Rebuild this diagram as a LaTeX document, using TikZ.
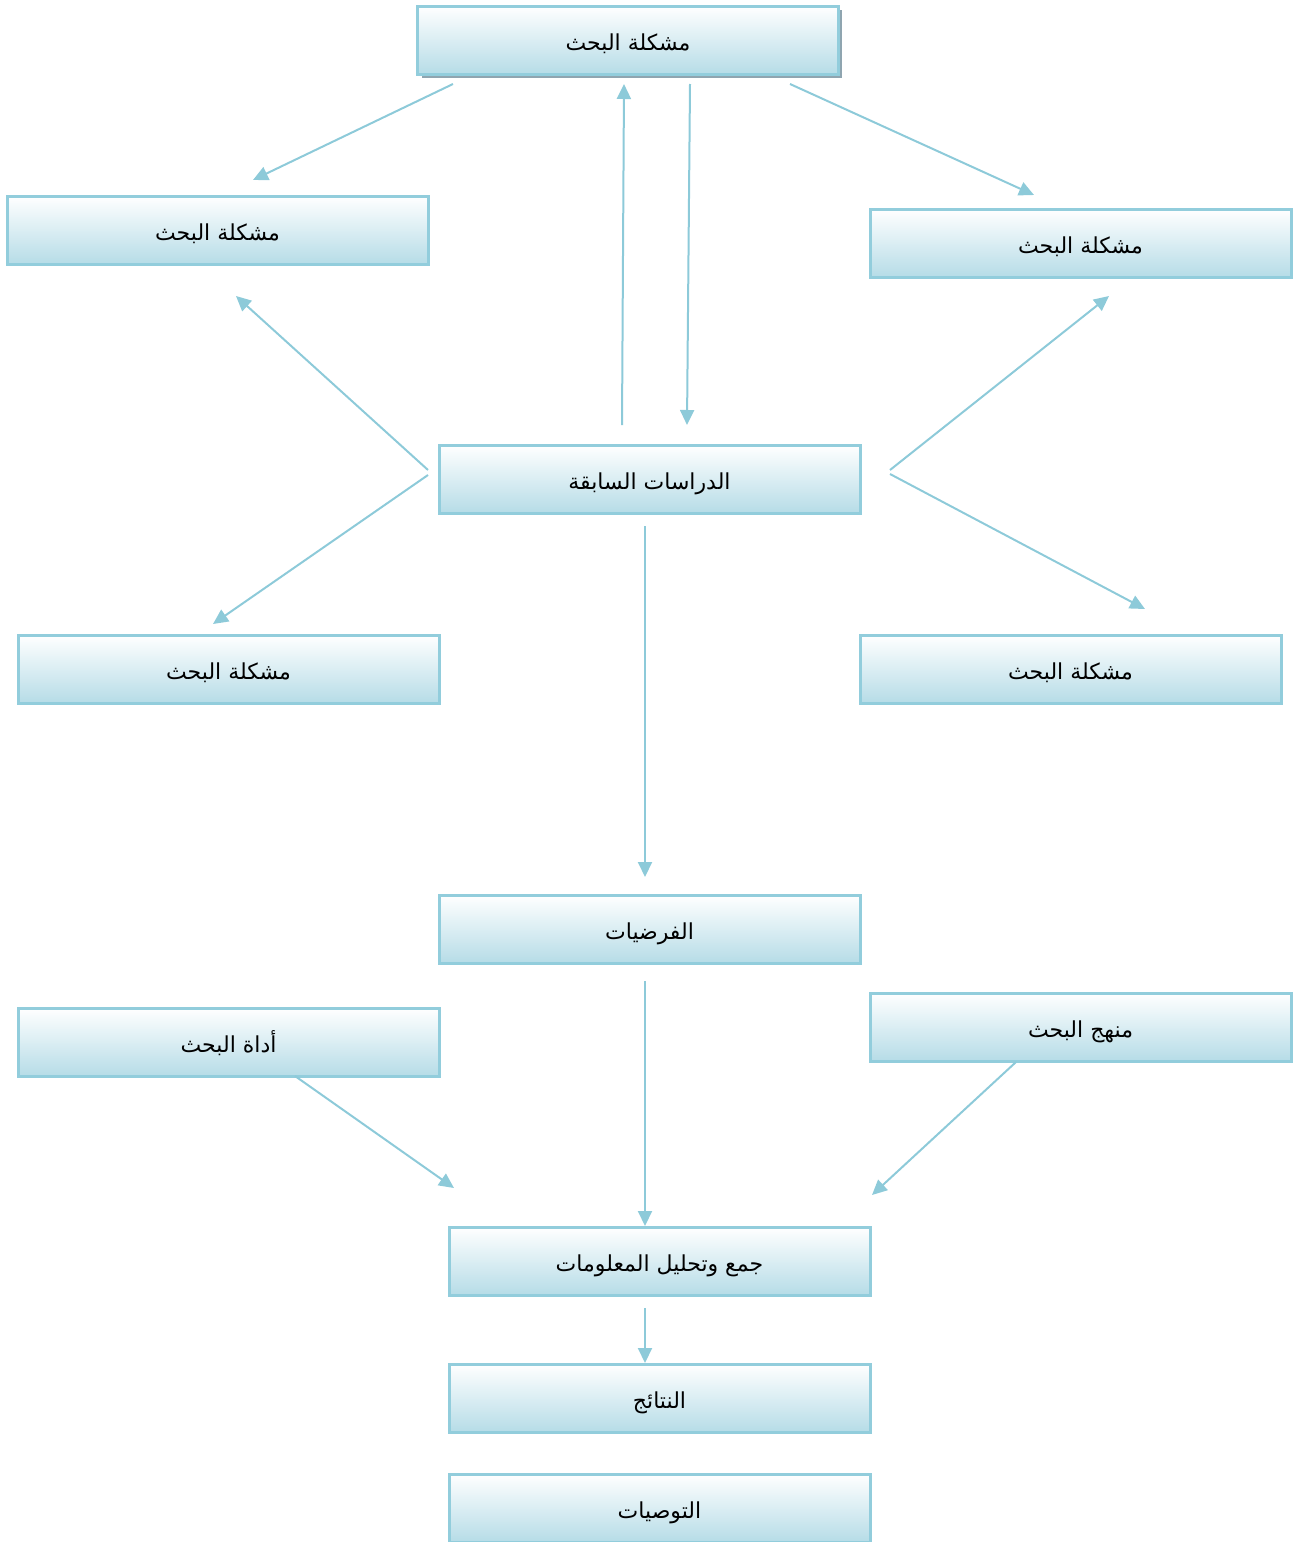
\documentclass[tikz,border=0pt]{standalone}
\usepackage{fontspec}
\newfontfamily\arabicfont[Script=Arabic]{DejaVu Sans}
\TeXXeTstate=1
\usetikzlibrary{arrows.meta,shadows}
\definecolor{bordc}{HTML}{92CDDC}
\definecolor{botc}{HTML}{B6DCE7}
\definecolor{arrc}{HTML}{8DCAD9}
\definecolor{shadc}{HTML}{8FA5B0}
\tikzset{
  box/.style={draw=bordc, line width=1.5pt, top color=white, bottom color=botc,
    minimum width=210.5pt, minimum height=34pt, inner sep=0pt,
    text height=10.5pt, text depth=0.5pt,
    font=\arabicfont\fontsize{11}{13}\selectfont, text=black},
  conn/.style={draw=arrc, line width=1pt, -{Triangle[length=7.5pt,width=7pt]}},
}
\newcommand{\ar}[1]{\beginR #1\endR}
\begin{document}
\begin{tikzpicture}[x=0.5pt,y=-0.5pt]
\useasboundingbox (0,0) rectangle (1300,1542);
% top box with shadow
\fill[shadc] (422,10) rectangle (842,78);
\node[box] (top) at (628,40) {\ar{مشكلة البحث}};
\node[box] (lt) at (217.5,230) {\ar{مشكلة البحث}};
\node[box] (rt) at (1080.5,243) {\ar{مشكلة البحث}};
\node[box] (mid) at (649.5,479) {\ar{الدراسات السابقة}};
\node[box] (lm) at (228.5,669) {\ar{مشكلة البحث}};
\node[box] (rm) at (1070.5,669) {\ar{مشكلة البحث}};
\node[box] (hyp) at (649.5,929) {\ar{الفرضيات}};
\node[box] (tool) at (228.5,1042) {\ar{أداة البحث}};
\node[box] (meth) at (1080.5,1027) {\ar{منهج البحث}};
\node[box] (coll) at (659.5,1261) {\ar{جمع وتحليل المعلومات}};
\node[box] (res) at (659.5,1398) {\ar{النتائج}};
\node[box] (rec) at (659.5,1508) {\ar{التوصيات}};
% free ends
\coordinate (a1s) at (453,84);   \coordinate (a1e) at (253,180);
\coordinate (a2s) at (622,425);  \coordinate (a2e) at (624,84);
\coordinate (a3s) at (690,84);   \coordinate (a3e) at (687,425);
\coordinate (a4s) at (790,84);   \coordinate (a4e) at (1034,195);
\coordinate (a5s) at (428,470);  \coordinate (a5e) at (236,296);
\coordinate (a6s) at (428,475);  \coordinate (a6e) at (213,624);
\coordinate (a7s) at (890,470);  \coordinate (a7e) at (1109,296);
\coordinate (a8s) at (890,474);  \coordinate (a8e) at (1145,609);
\coordinate (a9s) at (645,526);  \coordinate (a9e) at (645,877);
\coordinate (a10s) at (645,981); \coordinate (a10e) at (645,1226);
\coordinate (a11s) at (295,1076);\coordinate (a11e) at (454,1188);
\coordinate (a12s) at (1016,1062);\coordinate (a12e) at (872,1195);
\coordinate (a13s) at (645,1308);\coordinate (a13e) at (645,1363);
\foreach \i in {1,...,13} \draw[conn] (a\i s) -- (a\i e);
\end{tikzpicture}
\end{document}
